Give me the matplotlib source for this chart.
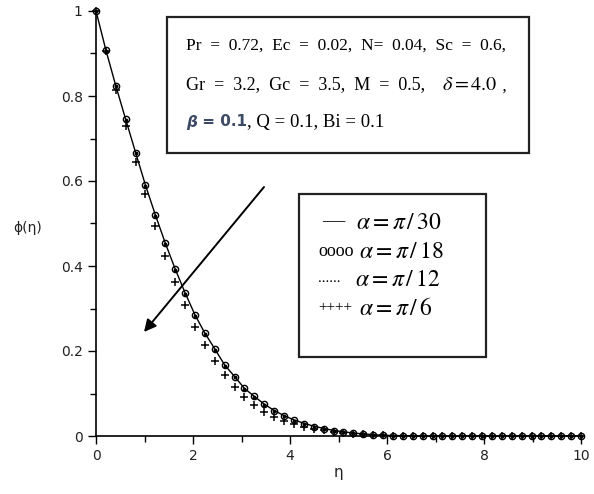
"""Concentration profiles phi(eta) for several inclination angles alpha."""

import matplotlib

matplotlib.use("Agg")

import matplotlib.pyplot as plt  # noqa: E402
import numpy as np  # noqa: E402

plt.rcParams["mathtext.fontset"] = "stix"

# eta sample grid: 50 points on [0, 10] (marker spacing)
eta = np.linspace(0.0, 10.0, 50)

# alpha = pi/30 (solid line)
phi_pi30 = [
    1.000, 0.908, 0.824, 0.745, 0.667, 0.590, 0.520, 0.454, 0.393, 0.337,
    0.285, 0.242, 0.205, 0.167, 0.140, 0.112, 0.093, 0.075, 0.060, 0.048,
    0.038, 0.030, 0.023, 0.018, 0.013, 0.010, 0.007, 0.005, 0.003, 0.002,
    0.001, 0.001, 0.000, 0.000, 0.000, 0.000, 0.000, 0.000, 0.000, 0.000,
    0.000, 0.000, 0.000, 0.000, 0.000, 0.000, 0.000, 0.000, 0.000, 0.000,
]
# alpha = pi/18 (open circles)
phi_pi18 = [
    1.000, 0.908, 0.824, 0.745, 0.667, 0.590, 0.520, 0.454, 0.393, 0.337,
    0.285, 0.242, 0.205, 0.167, 0.140, 0.112, 0.093, 0.075, 0.059, 0.047,
    0.037, 0.029, 0.022, 0.017, 0.012, 0.009, 0.007, 0.005, 0.003, 0.002,
    0.001, 0.001, 0.000, 0.000, 0.000, 0.000, 0.000, 0.000, 0.000, 0.000,
    0.000, 0.000, 0.000, 0.000, 0.000, 0.000, 0.000, 0.000, 0.000, 0.000,
]
# alpha = pi/12 (dots)
phi_pi12 = [
    1.000, 0.907, 0.823, 0.743, 0.665, 0.588, 0.518, 0.452, 0.391, 0.335,
    0.283, 0.240, 0.203, 0.165, 0.138, 0.110, 0.091, 0.073, 0.058, 0.046,
    0.036, 0.028, 0.021, 0.016, 0.012, 0.009, 0.006, 0.004, 0.003, 0.002,
    0.001, 0.001, 0.000, 0.000, 0.000, 0.000, 0.000, 0.000, 0.000, 0.000,
    0.000, 0.000, 0.000, 0.000, 0.000, 0.000, 0.000, 0.000, 0.000, 0.000,
]
# alpha = pi/6 (plus signs)
phi_pi6 = [
    1.000, 0.905, 0.814, 0.729, 0.645, 0.569, 0.494, 0.424, 0.363, 0.308,
    0.257, 0.214, 0.176, 0.144, 0.116, 0.092, 0.074, 0.056, 0.044, 0.036,
    0.028, 0.022, 0.017, 0.013, 0.010, 0.007, 0.005, 0.004, 0.003, 0.002,
    0.001, 0.001, 0.000, 0.000, 0.000, 0.000, 0.000, 0.000, 0.000, 0.000,
    0.000, 0.000, 0.000, 0.000, 0.000, 0.000, 0.000, 0.000, 0.000, 0.000,
]

legend_marks = ["\u2014", "oooo", "......", "++++"]
legend_labels = [
    r"$\alpha = \pi\,/\,30$",
    r"$\alpha = \pi\,/\,18$",
    r"$\alpha = \pi\,/\,12$",
    r"$\alpha = \pi\,/\,6$",
]

SERIF = ["Liberation Serif", "DejaVu Serif"]
W, H = 594, 494


def fx(px):
    return px / W


def fy(py):
    return 1 - py / H


fig = plt.figure(figsize=(W / 100, H / 100), dpi=100)
ax = fig.add_axes([fx(96), fy(436), (581 - 96) / W, (436 - 11) / H])

ax.plot(eta, phi_pi30, color="black", lw=1.0, clip_on=False)
ax.plot(eta, phi_pi18, ls="none", marker="o", ms=4.5, mfc="none", mec="black",
        mew=1.0, clip_on=False)
ax.plot(eta, phi_pi12, ls="none", marker=".", ms=3.5, color="black",
        clip_on=False)
ax.plot(eta, phi_pi6, ls="none", marker="+", ms=6, mew=1.1, color="black",
        clip_on=False)

ax.set_xlim(0, 10)
ax.set_ylim(0, 1)
ax.set_xticks([0, 2, 4, 6, 8, 10])
ax.set_xticks([1, 3, 5, 7, 9], minor=True)
ax.set_yticks([0, 0.2, 0.4, 0.6, 0.8, 1.0])
ax.set_yticklabels(["0", "0.2", "0.4", "0.6", "0.8", "1"])
ax.set_yticks([0.1, 0.3, 0.5, 0.7, 0.9], minor=True)
ax.tick_params(direction="out", length=6, width=1.0, labelsize=10,
               labelcolor="#222222")
ax.tick_params(which="minor", direction="out", length=4, width=1.0)
for side in ("top", "right"):
    ax.spines[side].set_visible(False)
for side in ("left", "bottom"):
    ax.spines[side].set_linewidth(1.2)

fig.text(fx(28), fy(228), "\u03d5(\u03b7)", fontsize=10,
         ha="center", va="center", color="#222222")
fig.text(fx(338), fy(472), "\u03b7", fontsize=11,
         ha="center", va="center", color="#222222")

# parameter box
fig.patches.append(plt.Rectangle(
    (fx(167), fy(153)), (529 - 167) / W, (153 - 17) / H,
    transform=fig.transFigure, fill=False, ec="#222222", lw=1.6))
fig.text(fx(186), fy(46),
         "Pr  =  0.72,  Ec  =  0.02,  N=  0.04,  Sc  =  0.6,",
         family=SERIF, fontsize=12.5, va="center")
fig.text(fx(186), fy(85),
         "Gr  =  3.2,  Gc  =  3.5,  M  =  0.5,",
         family=SERIF, fontsize=13, va="center")
delta = fig.text(fx(442), fy(84), r"$\delta = 4.0$", fontsize=14.5,
                 va="center")
ax.annotate(" ,", xy=(1, 0.35), xycoords=delta,
            family=SERIF, fontsize=12.5, va="center", ha="left")
beta = fig.text(fx(186), fy(122), "\u03b2", family="DejaVu Sans",
                fontsize=11, fontweight="bold", fontstyle="italic",
                va="center", color="#3d4a66")
beta_val = ax.annotate(" = 0.1", xy=(1, 0.5), xycoords=beta,
                       family="DejaVu Sans", fontsize=11, fontweight="bold",
                       va="center", ha="left", color="#3d4a66")
ax.annotate(", Q = 0.1, Bi = 0.1", xy=(1, 0.5), xycoords=beta_val,
            family=SERIF, fontsize=13.5, va="center", ha="left")

# legend box
fig.patches.append(plt.Rectangle(
    (fx(299), fy(357)), (486 - 299) / W, (357 - 194) / H,
    transform=fig.transFigure, fill=False, ec="#222222", lw=1.6))
legend_y = [222, 251, 279, 308]
mark_x = [322, 318, 318, 318]
mark_size = [16, 13, 11, 11]
label_x = [356, 359, 355, 359]
for mark, label, y, mx, ms, lx in zip(legend_marks, legend_labels, legend_y,
                                      mark_x, mark_size, label_x):
    fig.text(fx(mx), fy(y), mark, family=SERIF, fontsize=ms, va="center")
    fig.text(fx(lx), fy(y), label, fontsize=17, va="center")

# arrow showing increasing alpha
ax.annotate("", xy=(144, H - 332), xytext=(264, H - 187),
            xycoords="figure pixels", textcoords="figure pixels",
            arrowprops=dict(arrowstyle="-|>", color="black", lw=1.4,
                            mutation_scale=18, shrinkA=0, shrinkB=0))

fig.savefig("out.png", dpi=100)
